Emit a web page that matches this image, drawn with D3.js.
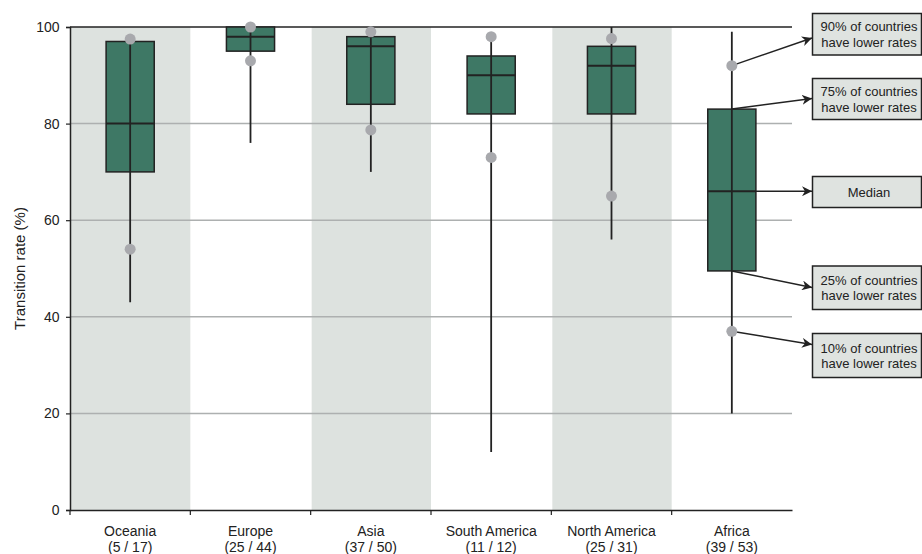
<!DOCTYPE html>
<html>
<head>
<meta charset="utf-8">
<script src="https://cdn.jsdelivr.net/npm/d3@7"></script>
<style>
  html, body { margin: 0; padding: 0; background: #fff; }
  svg { display: block; font-family: "Liberation Sans", Arial, sans-serif; }
</style>
</head>
<body>
<svg id="chart" width="922" height="554"></svg>
<script>
// ---- Data ----
const categories = ["Oceania", "Europe", "Asia", "South America", "North America", "Africa"];
const counts = ["(5 / 17)", "(25 / 44)", "(37 / 50)", "(11 / 12)", "(25 / 31)", "(39 / 53)"];
const whiskerLow = [43, 76, 70, 12, 56, 20];
const p10 = [54, 93, 78.7, 73, 65, 37];
const q1 = [70, 95, 84, 82, 82, 49.5];
const median = [80, 98, 96, 90, 92, 66];
const q3 = [97, 100, 98, 94, 96, 83];
const p90 = [97.5, 100, 99, 98, 97.6, 92];
const whiskerHigh = [97, 100, 99, 98, 100, 99];
const yTicks = [0, 20, 40, 60, 80, 100];
const annotationLabels = [
  ["90% of countries", "have lower rates"],
  ["75% of countries", "have lower rates"],
  ["Median"],
  ["25% of countries", "have lower rates"],
  ["10% of countries", "have lower rates"]
];
const yLabel = "Transition rate (%)";

// ---- Layout ----
const svg = d3.select("#chart");
const mLeft = 70, mRight = 792, mTop = 27, mBottom = 510;

const x = d3.scaleBand().domain(categories).range([mLeft, mRight]).padding(0);
const y = d3.scaleLinear().domain([0, 100]).range([mBottom, mTop]);
const bw = x.bandwidth();
const boxW = bw * 0.4;

// background bands
svg.append("g").selectAll("rect")
  .data(categories.filter((d, i) => i % 2 === 0))
  .join("rect")
  .attr("x", d => x(d) + 1)
  .attr("y", mTop)
  .attr("width", bw - 1)
  .attr("height", mBottom - mTop)
  .attr("fill", "#dde2df");

// grid lines
svg.append("g").selectAll("line")
  .data(yTicks.filter(t => t > 0 && t < 100))
  .join("line")
  .attr("x1", mLeft).attr("x2", mRight)
  .attr("y1", d => y(d)).attr("y2", d => y(d))
  .attr("stroke", "#adb0b0").attr("stroke-width", 1.5);

// top line
svg.append("line")
  .attr("x1", mLeft).attr("x2", mRight)
  .attr("y1", y(100)).attr("y2", y(100))
  .attr("stroke", "#222").attr("stroke-width", 1.5);

// y axis
const yAxis = svg.append("g")
  .attr("transform", `translate(${mLeft},0)`)
  .call(d3.axisLeft(y).tickValues(yTicks).tickSize(4).tickPadding(6.5));
yAxis.select(".domain").attr("stroke", "#222").attr("stroke-width", 1.5);
yAxis.selectAll(".tick line").attr("stroke", "#222").attr("stroke-width", 1.2);
yAxis.selectAll(".tick text").attr("fill", "#222").style("font-size", "14px")
  .style("font-family", "'Liberation Sans', Arial, sans-serif");

// x axis
const xAxis = svg.append("g")
  .attr("transform", `translate(0,${mBottom})`)
  .call(d3.axisBottom(x).tickSize(0).tickFormat(""));
xAxis.select(".domain").attr("stroke", "#222").attr("stroke-width", 1.5);
// boundary ticks
svg.append("g").selectAll("line")
  .data(categories.slice(1))
  .join("line")
  .attr("x1", d => x(d)).attr("x2", d => x(d))
  .attr("y1", mBottom).attr("y2", mBottom + 5)
  .attr("stroke", "#222").attr("stroke-width", 1.2);
svg.append("line")
  .attr("x1", mLeft).attr("x2", mLeft).attr("y1", mBottom).attr("y2", mBottom + 5)
  .attr("stroke", "#222").attr("stroke-width", 1.2);

// category labels (two separate lines)
const labG = svg.append("g").attr("fill", "#222").style("font-size", "14px").attr("text-anchor", "middle");
labG.selectAll("text.name")
  .data(categories)
  .join("text")
  .attr("class", "name")
  .attr("x", d => x(d) + bw / 2)
  .attr("y", 536)
  .text(d => d);
labG.selectAll("text.count")
  .data(categories)
  .join("text")
  .attr("class", "count")
  .attr("x", d => x(d) + bw / 2)
  .attr("y", 551.5)
  .text((d, i) => counts[i]);

// y label
svg.append("text")
  .attr("transform", `translate(25,${(mTop + mBottom) / 2}) rotate(-90)`)
  .attr("text-anchor", "middle")
  .attr("fill", "#222")
  .style("font-size", "15px")
  .text(yLabel);

// whiskers
const cx = d => x(d) + bw / 2;
svg.append("g").selectAll("line")
  .data(categories)
  .join("line")
  .attr("x1", cx).attr("x2", cx)
  .attr("y1", (d, i) => y(whiskerLow[i]))
  .attr("y2", (d, i) => y(whiskerHigh[i]))
  .attr("stroke", "#222").attr("stroke-width", 1.8);

// boxes
svg.append("g").selectAll("rect")
  .data(categories)
  .join("rect")
  .attr("x", d => cx(d) - boxW / 2)
  .attr("y", (d, i) => y(q3[i]))
  .attr("width", boxW)
  .attr("height", (d, i) => y(q1[i]) - y(q3[i]))
  .attr("fill", "#3e7865")
  .attr("stroke", "#222")
  .attr("stroke-width", 1.5);

// whisker through box
svg.append("g").selectAll("line")
  .data(categories)
  .join("line")
  .attr("x1", cx).attr("x2", cx)
  .attr("y1", (d, i) => y(q1[i]))
  .attr("y2", (d, i) => y(q3[i]))
  .attr("stroke", "#222").attr("stroke-width", 1.8);

// medians
svg.append("g").selectAll("line")
  .data(categories)
  .join("line")
  .attr("x1", d => cx(d) - boxW / 2).attr("x2", d => cx(d) + boxW / 2)
  .attr("y1", (d, i) => y(median[i]))
  .attr("y2", (d, i) => y(median[i]))
  .attr("stroke", "#222").attr("stroke-width", 2);

// annotations (for Africa)
const defs = svg.append("defs");
defs.append("marker")
  .attr("id", "arr")
  .attr("viewBox", "0 0 10 10")
  .attr("refX", 10).attr("refY", 5)
  .attr("markerWidth", 10).attr("markerHeight", 10)
  .attr("markerUnits", "userSpaceOnUse")
  .attr("orient", "auto")
  .append("path")
  .attr("d", "M0,0 L10,5 L0,10 L3,5 Z")
  .attr("fill", "#222");

const ai = categories.length - 1;
const ac = cx(categories[ai]);
const boxX = 812.5, boxWd = 109;
const annBoxes = [
  { y0: 13.5, y1: 55, src: [ac, y(p90[ai])], tgt: 38 },
  { y0: 78.5, y1: 119.5, src: [ac, y(q3[ai])], tgt: 98.5 },
  { y0: 176.5, y1: 207.5, src: [ac + boxW / 2, y(median[ai])], tgt: y(median[ai]) },
  { y0: 266, y1: 309.5, src: [ac, y(q1[ai])], tgt: 287.5 },
  { y0: 333.5, y1: 377.5, src: [ac, y(p10[ai])], tgt: 344.5 }
];
const ann = svg.append("g");
annBoxes.forEach((b, k) => {
  ann.append("line")
    .attr("x1", b.src[0]).attr("y1", b.src[1])
    .attr("x2", boxX - 0.5).attr("y2", b.tgt)
    .attr("stroke", "#222").attr("stroke-width", 1.5)
    .attr("marker-end", "url(#arr)");
  ann.append("rect")
    .attr("x", boxX).attr("y", b.y0)
    .attr("width", boxWd).attr("height", b.y1 - b.y0)
    .attr("fill", "#dfe3e0").attr("stroke", "#222").attr("stroke-width", 1.5);
  const lines = annotationLabels[k];
  const mid = (b.y0 + b.y1) / 2;
  lines.forEach((t, j) => {
    ann.append("text")
      .attr("x", 869)
      .attr("y", mid + (j - (lines.length - 1) / 2) * 15.5 + 4.8)
      .attr("text-anchor", "middle")
      .attr("fill", "#222")
      .style("font-size", "13px")
      .text(t);
  });
});

// percentile dots
const dots = svg.append("g");
categories.forEach((c, i) => {
  [p10[i], p90[i]].forEach(v => {
    dots.append("circle")
      .attr("cx", cx(c)).attr("cy", y(v))
      .attr("r", 5.5)
      .attr("fill", "#a8a9ad");
  });
});
</script>
</body>
</html>
